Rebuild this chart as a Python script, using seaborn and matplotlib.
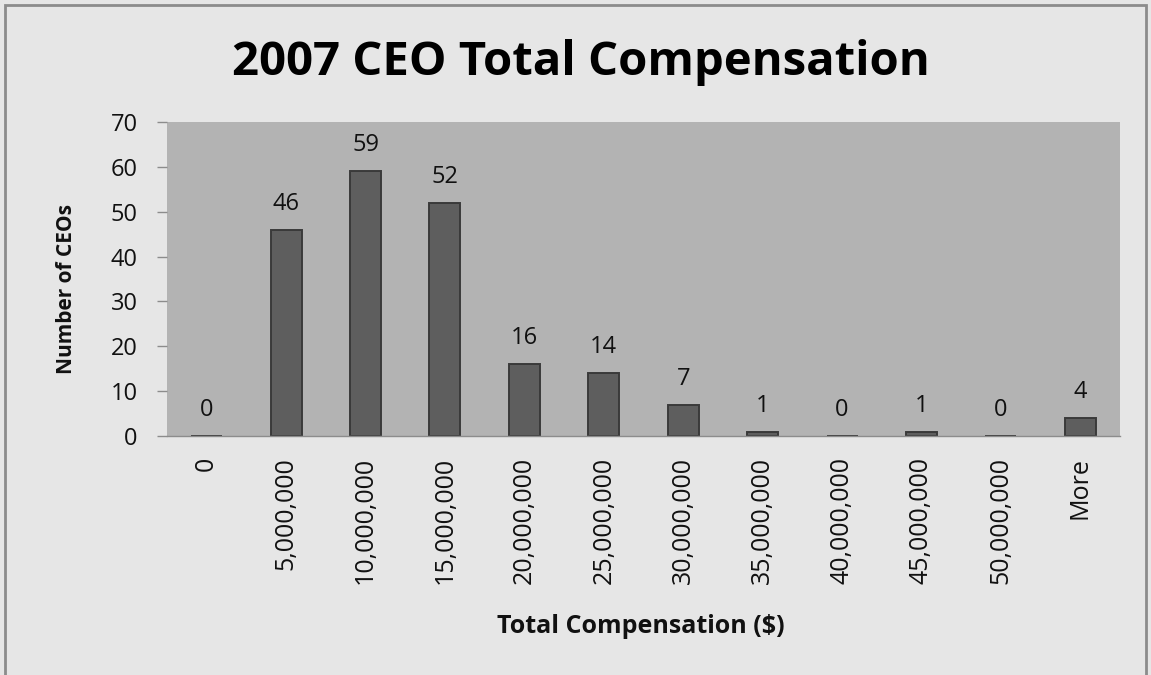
import matplotlib
matplotlib.use("Agg")
import matplotlib.pyplot as plt
import seaborn as sns
import pandas as pd
from matplotlib.patches import Rectangle

categories = ["0", "5,000,000", "10,000,000", "15,000,000", "20,000,000", "25,000,000",
              "30,000,000", "35,000,000", "40,000,000", "45,000,000", "50,000,000", "More"]
counts = [0, 46, 59, 52, 16, 14, 7, 1, 0, 1, 0, 4]
yticks = [0, 10, 20, 30, 40, 50, 60, 70]

sns.set_theme(style="white")
plt.rcParams['font.family'] = ['Open Sans', 'DejaVu Sans']

df = pd.DataFrame({"bin": categories, "count": counts})

fig = plt.figure(figsize=(11.51, 6.75), dpi=100)
fig.patch.set_facecolor("#e6e6e6")
ax = fig.add_axes([167/1151, 1-436/675, (1120-167)/1151, (436-122)/675])
ax.set_facecolor("#b3b3b3")

sns.barplot(data=df, x="bin", y="count", color="#5e5e5e", width=0.39,
            edgecolor="#3a3a3a", linewidth=1.4, saturation=1, ax=ax)

for i, v in enumerate(counts):
    ax.annotate(str(v), (i, v), xytext=(0, 10), textcoords="offset points",
                ha="center", va="bottom", fontsize=17, color="#111111")

ax.set_ylim(0, 70)
ax.set_xlim(-0.5, len(categories) - 0.5)
ax.set_yticks(yticks)
ax.set_yticklabels([str(t) for t in yticks], fontsize=17, color="#111111")
ax.set_xticks(range(len(categories)))
ax.set_xticklabels(categories, rotation=90, fontsize=18, color="#111111")
ax.tick_params(axis="x", which="major", length=0, pad=15)
ax.set_xticks([i - 0.5 for i in range(len(categories) + 1)], minor=True)
ax.tick_params(axis="x", which="minor", length=7, color="#8c8c8c", width=1, direction="out")
ax.tick_params(axis="y", length=7, color="#8c8c8c", width=1, direction="out", pad=14, left=True)
for side in ["top", "right", "left"]:
    ax.spines[side].set_visible(False)
ax.spines["bottom"].set_color("#8c8c8c")
ax.spines["bottom"].set_linewidth(1)

ax.set_xlabel("Total Compensation ($)", fontsize=18, fontweight="bold", color="#111111")
ax.xaxis.set_label_coords((641-167)/953, (436-614)/314)
ax.set_ylabel("Number of CEOs", fontsize=15, fontweight="bold", color="#111111")
ax.yaxis.set_label_coords((77-167)/953, (436-289)/314)

fig.text(581/1151, 1-63/675, "2007 CEO Total Compensation", ha="center", va="center",
         fontsize=34, fontweight="bold", color="black")

fig.patches.append(Rectangle((5/1151, -0.02), (1146-5)/1151, 1-5/675+0.02,
                             transform=fig.transFigure, fill=False,
                             edgecolor="#8c8c8c", linewidth=2))

fig.savefig("out.png", dpi=100, facecolor=fig.get_facecolor())
